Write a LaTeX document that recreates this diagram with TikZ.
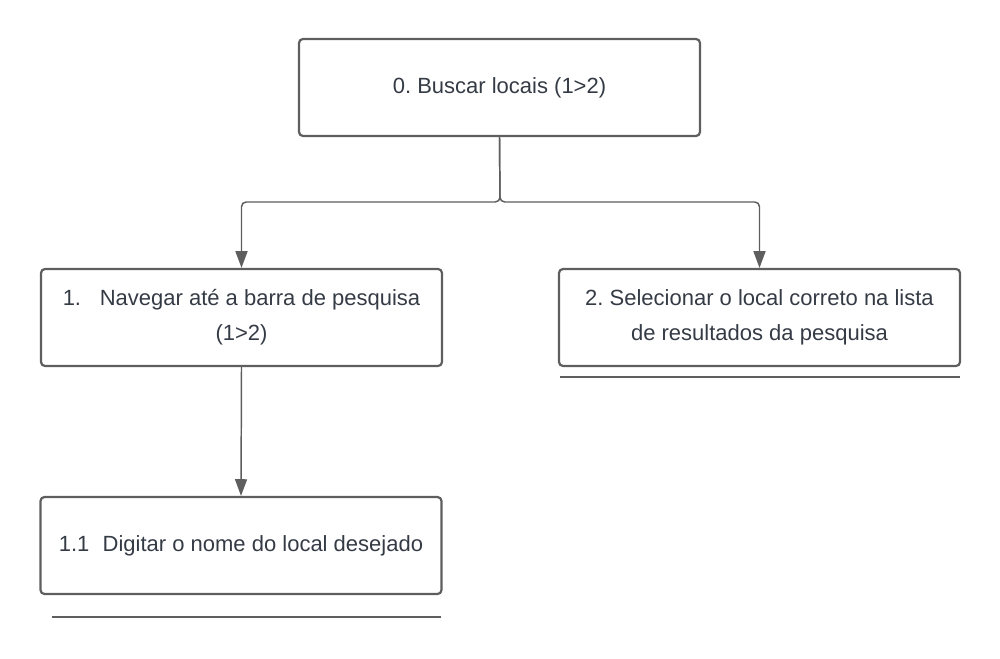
\documentclass[tikz,border=0pt]{standalone}
\usepackage{fontspec}
\setmainfont{Liberation Sans}
\usetikzlibrary{arrows.meta}
\frenchspacing
\definecolor{linegray}{HTML}{5E5E5E}
\definecolor{textgray}{HTML}{353B45}
\tikzset{
  box/.style={draw=linegray, line width=2.2pt*0.75, rounded corners=3pt,
    minimum width=300.75pt, minimum height=72.75pt, align=center,
    text=textgray, font=\fontsize{16.5pt}{26pt}\selectfont, inner sep=0pt},
  conn/.style={draw=linegray, line width=1.1pt, rounded corners=3.5pt,
    -{Triangle[width=9pt,length=12.5pt]}},
  rule/.style={draw=linegray, line width=2.1pt}
}
\begin{document}
\begin{tikzpicture}[x=0.75pt,y=-0.75pt]
\useasboundingbox (0,0) rectangle (1000,659);
\node[box] (b0) at (499.5,87.5) {0. Buscar locais (1>2)};
\node[box] (b1) at (241.5,317.5) {1.\hspace{0.85em}Navegar até a barra de pesquisa\\(1>2)};
\node[box] (b2) at (759.5,317.5) {2. Selecionar o local correto na lista\\de resultados da pesquisa};
\node[box] (b11) at (241,545.5) {1.1\hspace{0.6em}Digitar o nome do local desejado};
\coordinate (j) at (500,202);
\draw[conn] (b0.south) -- (j) -| (b1.north);
\draw[conn] (b0.south) -- (j) -| (b2.north);
\draw[conn] (b1.south) -- (b11.north);
\draw[rule] (52,617) -- (441,617);
\draw[rule] (560,377) -- (960,377);
\end{tikzpicture}
\end{document}
